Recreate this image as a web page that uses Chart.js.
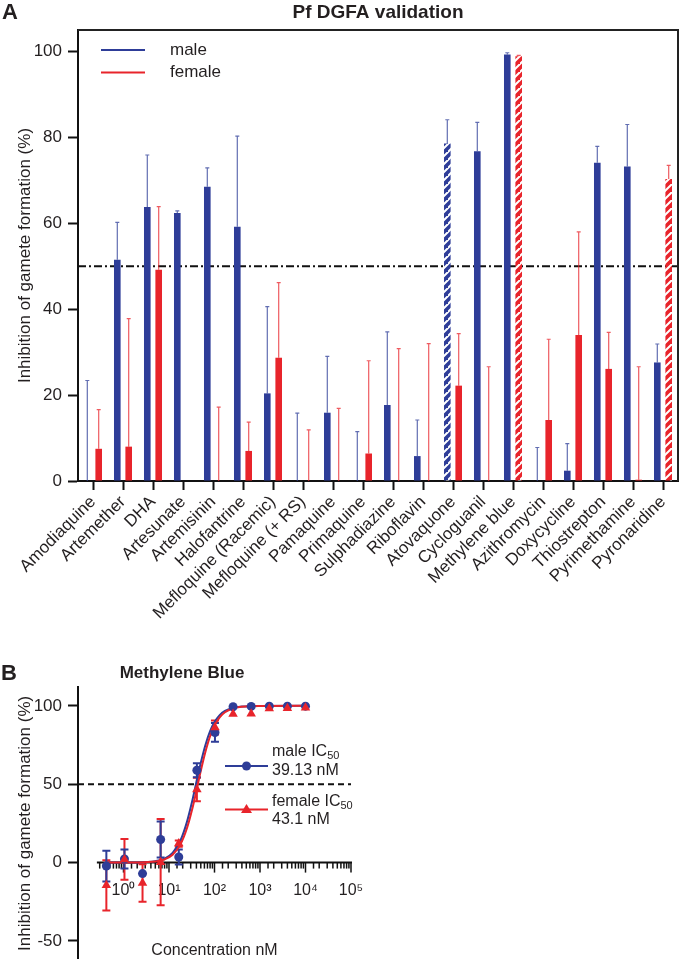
<!DOCTYPE html>
<html><head><meta charset="utf-8">
<script src="https://cdn.jsdelivr.net/npm/chart.js@4.4.1/dist/chart.umd.min.js"></script>
<style>
html,body{margin:0;padding:0;background:#fff;}
#wrap{position:relative;width:680px;height:959px;overflow:hidden;background:#fff;}
#cA{position:absolute;left:0;top:0;}
#cB{position:absolute;left:0;top:660px;}
</style></head><body>
<div id="wrap">
<canvas id="cA" width="680" height="660"></canvas>
<canvas id="cB" width="680" height="316"></canvas>
</div>
<script>
// ---------- Panel A data ----------
const categories = ['Amodiaquine','Artemether','DHA','Artesunate','Artemisinin','Halofantrine','Mefloquine (Racemic)','Mefloquine (+ RS)','Pamaquine','Primaquine','Sulphadiazine','Riboflavin','Atovaquone','Cycloguanil','Methylene blue','Azithromycin','Doxycycline','Thiostrepton','Pyrimethamine','Pyronaridine'];
const maleMean   = [0, 51.5, 63.8, 62.4, 68.5, 59.2, 20.4, 0, 15.9, 0, 17.7, 5.8, 78.6, 76.8, 99.3, 0, 2.4, 74.1, 73.2, 27.6];
const maleErr    = [23.4, 8.7, 12.1, 0.5, 4.4, 21.1, 20.2, 15.8, 13.1, 11.5, 17.0, 8.4, 5.5, 6.7, 0.4, 7.8, 6.3, 3.8, 9.8, 4.3];
const femaleMean = [7.5, 8.0, 49.2, 0, 0, 7.0, 28.7, 0, 0, 6.4, 0, 0, 22.2, 0, 98.9, 14.2, 34.0, 26.1, 0.3, 70.3];
const femaleErr  = [9.1, 29.8, 14.7, 0, 17.2, 6.7, 17.5, 11.9, 16.9, 21.6, 30.8, 32.0, 12.1, 26.6, 0.2, 18.8, 24.0, 8.5, 26.3, 3.2];
const maleHatched = ['Atovaquone'];
const femaleHatched = ['Methylene blue', 'Pyronaridine'];
const yTicksA = [0, 20, 40, 60, 80, 100];
const thresholdA = 50;

// ---------- Panel B data ----------
const conc       = [0.42, 1.05, 2.62, 6.55, 16.4, 41, 102.4, 256, 640, 1600, 4000, 10000];
const maleMB     = [-2.2, 2.3, -7.0, 14.7, 3.6, 58.9, 83.0, 99.4, 99.6, 99.8, 99.8, 99.8];
const maleMBErr  = [9.8, 6.0, 0, 11.5, 4.8, 4.5, 6.0, 0, 0, 0, 0, 0];
const femaleMB   = [-14.5, 2.0, -13.0, 0.3, 12.1, 46.6, 86.2, 94.7, 95.0, 98.3, 98.5, 98.8];
const femaleMBErr= [16.0, 13.0, 12.0, 27.5, 2.0, 7.5, 4.5, 0, 0, 0, 0, 0];
const fitConc    = [0.42, 2, 5, 8, 12, 18, 25, 32, 40, 50, 63, 80, 100, 130, 170, 250, 400, 1000, 10000];
const maleFit    = [0, 0.1, 0.9, 2.5, 6.2, 14.3, 26.3, 38.6, 51.3, 63.7, 74.9, 83.8, 89.6, 94.1, 96.7, 98.6, 99.5, 99.9, 100];
const femaleFit  = [0, 0.1, 0.7, 2.0, 5.0, 11.8, 22.2, 33.5, 45.7, 58.5, 70.5, 80.6, 87.4, 92.7, 95.9, 98.3, 99.4, 99.9, 100];
const yTicksB = [-50, 0, 50, 100];
const thresholdB = 50;

const BLUE = '#2e3d98', RED = '#e8242b', INK = '#231f20', AX = '#111111';
const FONT = '"Liberation Sans", Arial, Helvetica, sans-serif';
Chart.defaults.font.family = FONT;
Chart.defaults.color = INK;

function hatch(ctx, color) {
  const s = 8, c = document.createElement('canvas');
  c.width = s; c.height = s;
  const g = c.getContext('2d');
  g.fillStyle = color; g.fillRect(0, 0, s, s);
  g.strokeStyle = '#ffffff'; g.lineWidth = 2;
  g.beginPath();
  g.moveTo(-2, s + 2); g.lineTo(s + 2, -2);
  g.moveTo(-2 - s, s + 2); g.lineTo(2, -2);
  g.moveTo(s - 2, 2 * s + 2); g.lineTo(2 * s + 2, s - 2);
  g.stroke();
  return ctx.createPattern(c, 'repeat');
}

// ---------- Panel A ----------
const ctxA = document.getElementById('cA').getContext('2d');
const maleBg = categories.map(c => maleHatched.includes(c) ? hatch(ctxA, BLUE) : BLUE);
const femaleBg = categories.map(c => femaleHatched.includes(c) ? hatch(ctxA, RED) : RED);

const pluginA = {
  id: 'pluginA',
  beforeDatasetsDraw(chart) {
    const {ctx, chartArea: ca, scales: {y}} = chart;
    const yy = y.getPixelForValue(thresholdA);
    ctx.save();
    ctx.strokeStyle = AX; ctx.lineWidth = 2; ctx.setLineDash([8, 3, 2, 3]);
    ctx.beginPath(); ctx.moveTo(ca.left, yy); ctx.lineTo(ca.right, yy); ctx.stroke();
    ctx.restore();
  },
  afterDatasetsDraw(chart) {
    const {ctx, chartArea: ca, scales: {y}} = chart;
    ctx.save();
    chart.data.datasets.forEach((ds, i) => {
      const meta = chart.getDatasetMeta(i);
      ctx.strokeStyle = ds.errColor; ctx.lineWidth = 1.2;
      meta.data.forEach((el, j) => {
        const e = ds.err[j];
        if (!e) return;
        const v = ds.data[j];
        const y0 = y.getPixelForValue(v), y1 = y.getPixelForValue(v + e);
        ctx.beginPath();
        ctx.moveTo(el.x, y0); ctx.lineTo(el.x, y1);
        ctx.moveTo(el.x - 2, y1); ctx.lineTo(el.x + 2, y1);
        ctx.stroke();
      });
    });
    ctx.strokeStyle = '#222'; ctx.lineWidth = 2;
    ctx.beginPath();
    ctx.moveTo(ca.left, ca.top); ctx.lineTo(ca.right, ca.top); ctx.lineTo(ca.right, ca.bottom);
    ctx.stroke();
    const leg = [['male', BLUE, 50], ['female', RED, 72.5]];
    ctx.lineWidth = 2; ctx.font = '17px ' + FONT; ctx.fillStyle = INK; ctx.textBaseline = 'middle'; ctx.textAlign = 'left';
    leg.forEach(([t, c, yy]) => {
      ctx.strokeStyle = c;
      ctx.beginPath(); ctx.moveTo(101, yy); ctx.lineTo(145, yy); ctx.stroke();
      ctx.fillText(t, 170, yy);
    });
    ctx.font = 'bold 22px ' + FONT; ctx.textBaseline = 'alphabetic';
    ctx.fillText('A', 2, 19);
    ctx.font = 'bold 19px ' + FONT; ctx.textAlign = 'center';
    ctx.fillText('Pf DGFA validation', (ca.left + ca.right) / 2, 18);
    ctx.restore();
  }
};

new Chart(ctxA, {
  type: 'bar',
  data: {
    labels: categories,
    datasets: [
      {label: 'male', data: maleMean, err: maleErr, backgroundColor: maleBg, errColor: 'rgba(46,61,152,0.75)', borderWidth: 0},
      {label: 'female', data: femaleMean, err: femaleErr, backgroundColor: femaleBg, errColor: 'rgba(232,36,43,0.75)', borderWidth: 0}
    ]
  },
  options: {
    responsive: false, animation: false, devicePixelRatio: 1,
    layout: {padding: {top: 30, right: 2, left: 0, bottom: 0}},
    datasets: {bar: {categoryPercentage: 0.76, barPercentage: 0.58}},
    plugins: {legend: {display: false}, tooltip: {enabled: false}, title: {display: false}},
    scales: {
      x: {
        offset: true,
        grid: {display: true, offset: false, drawOnChartArea: false, drawTicks: true, tickLength: 9, tickWidth: 2, tickColor: AX},
        border: {display: true, color: AX, width: 2},
        ticks: {autoSkip: false, maxRotation: 45, minRotation: 45, padding: 2, font: {size: 17}, color: INK},
        afterFit: s => { s.height = 179; }
      },
      y: {
        min: 0, max: 105,
        afterBuildTicks: s => { s.ticks = yTicksA.map(v => ({value: v})); },
        ticks: {padding: 6, font: {size: 17}, color: INK},
        grid: {drawOnChartArea: false, tickLength: 10, tickWidth: 2, tickColor: AX},
        border: {display: true, color: AX, width: 2},
        title: {display: true, text: 'Inhibition of gamete formation (%)', font: {size: 17}, color: INK, padding: {top: 15, bottom: 0}},
        afterFit: s => { s.width = 78; }
      }
    }
  },
  plugins: [pluginA]
});

// ---------- Panel B ----------
const ctxB = document.getElementById('cB').getContext('2d');
const SUP = ['\u2070', '\u00b9', '\u00b2', '\u00b3', '\u2074', '\u2075'];
const isPow10 = v => { const l = Math.log10(v); return Math.abs(l - Math.round(l)) < 1e-6; };

const pluginB = {
  id: 'pluginB',
  beforeDatasetsDraw(chart) {
    const {ctx, chartArea: ca, scales: {x, y}} = chart;
    ctx.save();
    const yy = y.getPixelForValue(thresholdB);
    ctx.strokeStyle = AX; ctx.lineWidth = 2; ctx.setLineDash([6, 4]);
    ctx.beginPath(); ctx.moveTo(ca.left, yy); ctx.lineTo(x.getPixelForValue(1e5), yy); ctx.stroke();
    ctx.setLineDash([]);
    const y0 = y.getPixelForValue(0);
    ctx.beginPath(); ctx.moveTo(x.getPixelForValue(0.26), y0); ctx.lineTo(x.getPixelForValue(1e5) + 1, y0); ctx.stroke();
    ctx.lineWidth = 1.5;
    x.ticks.forEach(t => {
      if (t.value < 0.29 || t.value > 1e5 * 1.001) return;
      const px = x.getPixelForValue(t.value);
      const len = isPow10(t.value) ? 10 : 6;
      ctx.beginPath(); ctx.moveTo(px, y0); ctx.lineTo(px, y0 + len); ctx.stroke();
    });
    chart.data.datasets.forEach((ds, i) => {
      if (!ds.err) return;
      const meta = chart.getDatasetMeta(i);
      ctx.strokeStyle = ds.borderColor; ctx.lineWidth = 2;
      meta.data.forEach((el, j) => {
        const e = ds.err[j];
        if (!e) return;
        const v = ds.data[j].y;
        const a = y.getPixelForValue(v + e), b = y.getPixelForValue(v - e);
        ctx.beginPath();
        ctx.moveTo(el.x, a); ctx.lineTo(el.x, b);
        ctx.moveTo(el.x - 4, a); ctx.lineTo(el.x + 4, a);
        ctx.moveTo(el.x - 4, b); ctx.lineTo(el.x + 4, b);
        ctx.stroke();
      });
    });
    ctx.restore();
  },
  afterDatasetsDraw(chart) {
    const {ctx, chartArea: ca, scales: {y}} = chart;
    ctx.save();
    ctx.fillStyle = INK; ctx.textBaseline = 'alphabetic'; ctx.textAlign = 'left';
    ctx.font = 'bold 22px ' + FONT;
    ctx.fillText('B', 1, 20);
    ctx.font = 'bold 17px ' + FONT; ctx.textAlign = 'center';
    ctx.fillText('Methylene Blue', 182, 18);
    ctx.font = '16px ' + FONT;
    ctx.fillText('Concentration nM', (ca.left + ca.right) / 2, y.getPixelForValue(0) + 92);
    const items = [
      {c: BLUE, name: 'male IC', val: '39.13 nM', ly: 106, t1: 92, t2: 111, style: 'circle'},
      {c: RED, name: 'female IC', val: '43.1 nM', ly: 149.5, t1: 142, t2: 160, style: 'triangle'}
    ];
    items.forEach(it => {
      ctx.strokeStyle = it.c; ctx.fillStyle = it.c; ctx.lineWidth = 2;
      ctx.beginPath(); ctx.moveTo(225, it.ly); ctx.lineTo(268, it.ly); ctx.stroke();
      ctx.beginPath();
      if (it.style === 'circle') { ctx.arc(246.5, it.ly, 4.5, 0, Math.PI * 2); }
      else { ctx.moveTo(246.5, it.ly - 5.5); ctx.lineTo(252, it.ly + 3.5); ctx.lineTo(241, it.ly + 3.5); ctx.closePath(); }
      ctx.fill();
      ctx.fillStyle = INK; ctx.textAlign = 'left'; ctx.textBaseline = 'middle';
      ctx.font = '16px ' + FONT;
      ctx.fillText(it.name, 272, it.t1);
      const w = ctx.measureText(it.name).width;
      ctx.font = '11px ' + FONT;
      ctx.fillText('50', 272 + w, it.t1 + 4);
      ctx.font = '16px ' + FONT;
      ctx.fillText(it.val, 272, it.t2);
    });
    ctx.restore();
  }
};

new Chart(ctxB, {
  type: 'scatter',
  data: {
    datasets: [
      {label: 'female', data: conc.map((c, i) => ({x: c, y: femaleMB[i]})), err: femaleMBErr,
       pointStyle: 'triangle', pointRadius: 5.5, backgroundColor: RED, borderColor: RED, pointBorderWidth: 0, order: 0},
      {label: 'male', data: conc.map((c, i) => ({x: c, y: maleMB[i]})), err: maleMBErr,
       pointStyle: 'circle', pointRadius: 4.5, backgroundColor: BLUE, borderColor: BLUE, pointBorderWidth: 0, order: 1},
      {label: 'female fit', type: 'line', data: fitConc.map((c, i) => ({x: c, y: femaleFit[i]})),
       borderColor: RED, borderWidth: 2, pointRadius: 0, cubicInterpolationMode: 'monotone', fill: false, order: 2},
      {label: 'male fit', type: 'line', data: fitConc.map((c, i) => ({x: c, y: maleFit[i]})),
       borderColor: BLUE, borderWidth: 2, pointRadius: 0, cubicInterpolationMode: 'monotone', fill: false, order: 3}
    ]
  },
  options: {
    responsive: false, animation: false, devicePixelRatio: 1,
    layout: {padding: {top: 27, right: 329, left: 0, bottom: 0}},
    plugins: {legend: {display: false}, tooltip: {enabled: false}, title: {display: false}},
    scales: {
      x: {
        type: 'logarithmic', min: 0.1, max: 1e5, position: {y: 0},
        border: {display: false},
        grid: {display: true, drawOnChartArea: false, drawTicks: true, tickLength: 10, tickColor: 'rgba(0,0,0,0)'},
        ticks: {autoSkip: false, maxRotation: 0, minRotation: 0, padding: 8, font: {size: 16}, color: INK,
          callback: v => { const l = Math.round(Math.log10(v)); return (isPow10(v) && l >= 0) ? '10' + SUP[l] : ''; }},
        afterFit: s => { s.height = 0; }
      },
      y: {
        min: -62, max: 112,
        afterBuildTicks: s => { s.ticks = yTicksB.map(v => ({value: v})); },
        ticks: {padding: 6, font: {size: 17}, color: INK},
        grid: {drawOnChartArea: false, tickLength: 10, tickWidth: 2, tickColor: AX},
        border: {display: true, color: AX, width: 2},
        title: {display: true, text: 'Inhibition of gamete formation (%)', font: {size: 17}, color: INK, padding: {top: 15, bottom: 0}},
        afterFit: s => { s.width = 78; }
      }
    }
  },
  plugins: [pluginB]
});
</script>
</body></html>
